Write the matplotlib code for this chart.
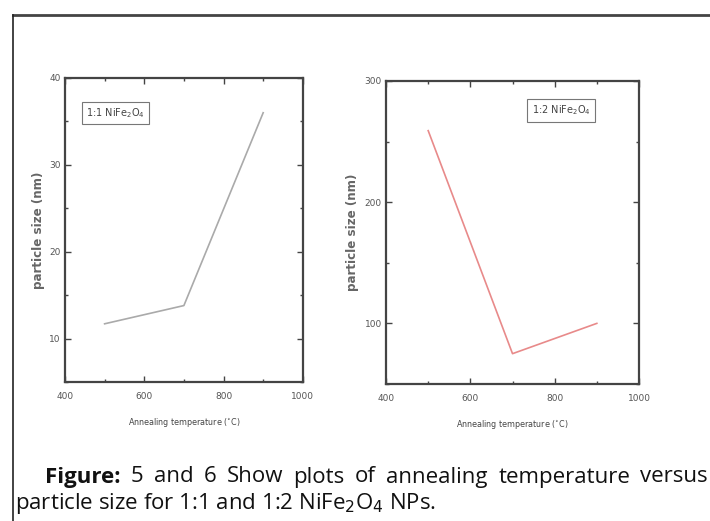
import matplotlib.pyplot as plt
from matplotlib.ticker import MultipleLocator
from matplotlib.lines import Line2D

temps = [500, 700, 900]
size_11 = [11.7, 13.8, 36.0]
size_12 = [259, 75, 100]

x_ticks = [400, 600, 800, 1000]
y_ticks_11 = [10, 20, 30, 40]
y_ticks_12 = [100, 200, 300]

caption_1 = ['Figure:', '5', 'and', '6', 'Show', 'plots', 'of', 'annealing',
             'temperature', 'versus']
caption_2 = 'particle size for 1:1 and 1:2 NiFe$_2$O$_4$ NPs.'

W, H = 710, 521
fig = plt.figure(figsize=(7.1, 5.21), dpi=100)

frame = '#444444'


def style_axes(ax, yticks, ylim, minor_y, ypad):
    ax.set_xlim(400, 1000)
    ax.set_ylim(*ylim)
    ax.set_xticks(x_ticks)
    ax.set_yticks(yticks)
    ax.xaxis.set_minor_locator(MultipleLocator(100))
    ax.yaxis.set_minor_locator(MultipleLocator(minor_y))
    ax.tick_params(which='both', direction='in', top=True, right=True,
                   labelsize=6.5, colors=frame, labelcolor='#555555')
    ax.tick_params(axis='x', pad=7)
    ax.tick_params(axis='y', pad=3)
    ax.tick_params(which='major', length=4, width=1)
    ax.tick_params(which='minor', length=2.5, width=1)
    for s in ax.spines.values():
        s.set_linewidth(1.6)
        s.set_color(frame)
    ax.set_xlabel('Annealing temperature ($^{\\circ}$C)', fontsize=5.8,
                  color='#444444', labelpad=11)
    ax.set_ylabel('particle size (nm)', fontsize=8.6, color='#666666',
                  fontweight='bold', labelpad=ypad)


ax1 = fig.add_axes([0.0915, 0.2668, 0.335, 0.5835])
ax1.plot(temps, size_11, color='#aaaaaa', lw=1.2)
style_axes(ax1, y_ticks_11, (5, 40), 5, 3)
ax1.text(0.212, 0.885, '1:1 NiFe$_2$O$_4$', transform=ax1.transAxes,
         ha='center', va='center', fontsize=7, color='#444444',
         bbox=dict(boxstyle='square,pad=0.45', fc='white', ec='#777777', lw=0.8))

ax2 = fig.add_axes([0.5437, 0.263, 0.3563, 0.5816])
ax2.plot(temps, size_12, color='#e88a8a', lw=1.2)
style_axes(ax2, y_ticks_12, (50, 300), 50, 4)
ax2.text(0.692, 0.903, '1:2 NiFe$_2$O$_4$', transform=ax2.transAxes,
         ha='center', va='center', fontsize=7, color='#444444',
         bbox=dict(boxstyle='square,pad=0.45', fc='white', ec='#777777', lw=0.8))

# page frame
fig.add_artist(Line2D([13 / W, 1.0], [1 - 15 / H, 1 - 15 / H],
                      transform=fig.transFigure, color='#444444', lw=2))
fig.add_artist(Line2D([13 / W, 13 / W], [1 - 15 / H, 0],
                      transform=fig.transFigure, color='#222222', lw=1.2))

# caption, first line justified between x=45 and the right edge
cap_font = 'Open Sans'
cap_size = 16
renderer = fig.canvas.get_renderer()
words = []
for i, w in enumerate(caption_1):
    t = fig.text(0, 1 - 477 / H, w, fontsize=cap_size, family=cap_font,
                 fontweight='bold' if i == 0 else 'normal',
                 va='center', color='#111111')
    words.append(t)
widths = [t.get_window_extent(renderer).width for t in words]
left, right = 45, 708
gap = (right - left - sum(widths)) / (len(words) - 1)
x = left
for t, wd in zip(words, widths):
    t.set_x(x / W)
    x += wd + gap

fig.text(15 / W, 1 - 504 / H, caption_2, fontsize=cap_size, family=cap_font,
         va='center', color='#111111')

fig.savefig('out.png', dpi=100)
